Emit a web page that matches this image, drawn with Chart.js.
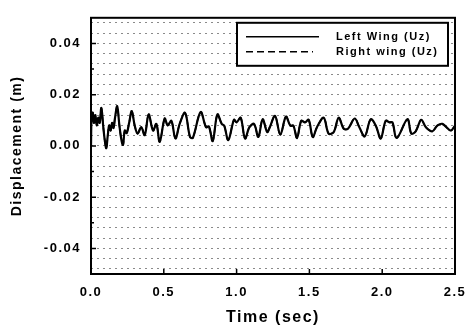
<!DOCTYPE html>
<html>
<head>
<meta charset="utf-8">
<script src="https://cdn.jsdelivr.net/npm/chart.js@4"></script>
<style>
html, body { margin: 0; padding: 0; background: #fff; }
canvas { display: block; }
</style>
</head>
<body>
<canvas id="chart" width="465" height="329"></canvas>
<script>
const timeSec = [
    0.000, 0.004, 0.012, 0.020, 0.030, 0.040, 0.050, 0.060, 0.071, 0.085,
    0.095, 0.105, 0.115, 0.125, 0.135, 0.145, 0.155, 0.165, 0.180, 0.195,
    0.210, 0.220, 0.232, 0.245, 0.262, 0.280, 0.300, 0.320, 0.345, 0.369,
    0.396, 0.426, 0.449, 0.472, 0.506, 0.527, 0.552, 0.580, 0.609, 0.646,
    0.680, 0.700, 0.753, 0.790, 0.810, 0.836, 0.868, 0.898, 0.915, 0.943,
    0.982, 1.000, 1.028, 1.058, 1.088, 1.120, 1.149, 1.179, 1.210, 1.228,
    1.264, 1.300, 1.339, 1.369, 1.390, 1.415, 1.444, 1.470, 1.495, 1.523,
    1.552, 1.598, 1.632, 1.667, 1.701, 1.736, 1.765, 1.811, 1.843, 1.880,
    1.921, 1.956, 1.990, 2.024, 2.050, 2.070, 2.100, 2.173, 2.200, 2.230,
    2.268, 2.300, 2.344, 2.378, 2.413, 2.470, 2.500
];
const leftWing = [
    0.0000, 0.0110, 0.0130, 0.0090, 0.0120, 0.0080, 0.0110, 0.0090, 0.0148, 0.0070,
    0.0020, -0.0009, 0.0040, 0.0080, 0.0060, 0.0090, 0.0070, 0.0110, 0.0155, 0.0080,
    0.0020, 0.0004, 0.0060, 0.0050, 0.0090, 0.0136, 0.0080, 0.0048, 0.0073, 0.0042,
    0.0123, 0.0060, 0.0086, 0.0016, 0.0107, 0.0080, 0.0098, 0.0029, 0.0086, 0.0129,
    0.0035, 0.0032, 0.0132, 0.0073, 0.0076, 0.0019, 0.0123, 0.0086, 0.0079, 0.0023,
    0.0102, 0.0092, 0.0110, 0.0029, 0.0073, 0.0086, 0.0035, 0.0104, 0.0054, 0.0073,
    0.0117, 0.0044, 0.0114, 0.0079, 0.0079, 0.0031, 0.0098, 0.0092, 0.0102, 0.0035,
    0.0073, 0.0110, 0.0048, 0.0054, 0.0110, 0.0067, 0.0067, 0.0107, 0.0073, 0.0037,
    0.0104, 0.0079, 0.0029, 0.0098, 0.0092, 0.0092, 0.0031, 0.0104, 0.0048, 0.0057,
    0.0102, 0.0073, 0.0057, 0.0079, 0.0086, 0.0060, 0.0079
];
// the right wing curve lies right on top of the left one in the picture
const rightWing = leftWing;

const xTicks = [0.0, 0.5, 1.0, 1.5, 2.0, 2.5];
const yTicks = [-0.04, -0.02, 0.00, 0.02, 0.04];

const FONT = "'Liberation Sans', Arial, sans-serif";

function toPoints(values) {
    return timeSec.map((t, i) => ({ x: t, y: values[i] }));
}

// frame, inward tick marks and the boxed legend
const framePlugin = {
    id: 'frame',
    beforeDraw(chart) {
        chart.ctx.letterSpacing = '1.5px';
    },
    afterDraw(chart) {
        const { ctx, chartArea: a, scales } = chart;
        ctx.save();
        ctx.strokeStyle = '#000';
        ctx.lineWidth = 1.5;
        ctx.beginPath();
        for (let k = -4; k <= 4; k++) {
            const y = scales.y.getPixelForValue(k * 0.01);
            const len = k % 2 === 0 ? 5 : 3;
            ctx.moveTo(a.left, y);
            ctx.lineTo(a.left + len, y);
        }
        xTicks.forEach(v => {
            const x = scales.x.getPixelForValue(v);
            ctx.moveTo(x, a.bottom);
            ctx.lineTo(x, a.bottom - 5);
        });
        ctx.stroke();

        ctx.lineWidth = 2;
        ctx.strokeRect(a.left, a.top, a.right - a.left, a.bottom - a.top);

        // legend box
        const bw = 211, bh = 43;
        const bx = a.right - 7 - bw, by = a.top + 5;
        ctx.fillStyle = '#fff';
        ctx.fillRect(bx, by, bw, bh);
        ctx.strokeRect(bx, by, bw, bh);
        ctx.font = 'bold 11px ' + FONT;
        ctx.textBaseline = 'middle';
        ctx.textAlign = 'left';
        ctx.fillStyle = '#000';
        chart.data.datasets.forEach((ds, i) => {
            const y = by + 14 + i * 15;
            ctx.lineWidth = 1.5;
            ctx.setLineDash(ds.borderDash || []);
            ctx.beginPath();
            ctx.moveTo(bx + 9, y);
            ctx.lineTo(bx + (i === 0 ? 82 : 76), y);
            ctx.stroke();
            ctx.setLineDash([]);
            ctx.fillText(ds.label, bx + 99, y);
        });
        ctx.restore();
    }
};

new Chart(document.getElementById('chart'), {
    type: 'line',
    data: {
        datasets: [
            {
                label: 'Left Wing (Uz)',
                data: toPoints(leftWing),
                borderColor: '#000',
                borderWidth: 2.2,
                pointRadius: 0,
                tension: 0.35
            },
            {
                label: 'Right wing (Uz)',
                data: toPoints(rightWing),
                borderColor: '#000',
                borderWidth: 1.6,
                borderDash: [7, 4],
                pointRadius: 0,
                tension: 0.35
            }
        ]
    },
    options: {
        responsive: false,
        animation: false,
        devicePixelRatio: 1,
        layout: { padding: { top: 8, right: 10, left: 0, bottom: 0 } },
        plugins: {
            legend: { display: false },
            tooltip: { enabled: false }
        },
        scales: {
            x: {
                type: 'linear',
                min: 0,
                max: 2.5,
                afterBuildTicks: scale => {
                    scale.ticks = xTicks.map(v => ({ value: v }));
                },
                afterFit: scale => {
                    scale.height = 55;
                    scale.paddingLeft = 0;
                    scale.paddingRight = 0;
                },
                ticks: {
                    color: '#000',
                    padding: 3,
                    maxRotation: 0,
                    font: { family: FONT, size: 13, weight: 'bold' },
                    callback: v => v.toFixed(1)
                },
                grid: { display: false },
                border: { display: false },
                title: {
                    display: true,
                    text: 'Time (sec)',
                    color: '#000',
                    font: { family: FONT, size: 16, weight: 'bold' },
                    padding: { top: 0, bottom: 2 }
                }
            },
            y: {
                min: -0.05,
                max: 0.05,
                afterBuildTicks: scale => {
                    const ticks = [];
                    for (let k = -12; k <= 12; k++) ticks.push({ value: k * 0.004 });
                    scale.ticks = ticks;
                },
                afterFit: scale => { scale.width = 91; },
                ticks: {
                    color: '#000',
                    padding: 10,
                    autoSkip: false,
                    font: { family: FONT, size: 13, weight: 'bold' },
                    callback: v => {
                        const hit = yTicks.find(t => Math.abs(t - v) < 1e-6);
                        return hit === undefined ? '' : hit.toFixed(2);
                    }
                },
                grid: {
                    color: '#8a8a8a',
                    lineWidth: 1,
                    drawTicks: false
                },
                border: { display: false, dash: [2, 4] },
                title: {
                    display: true,
                    text: 'Displacement (m)',
                    color: '#000',
                    font: { family: FONT, size: 14, weight: 'bold' },
                    padding: { top: 9, bottom: 0 }
                }
            }
        }
    },
    plugins: [framePlugin]
});
</script>
</body>
</html>
